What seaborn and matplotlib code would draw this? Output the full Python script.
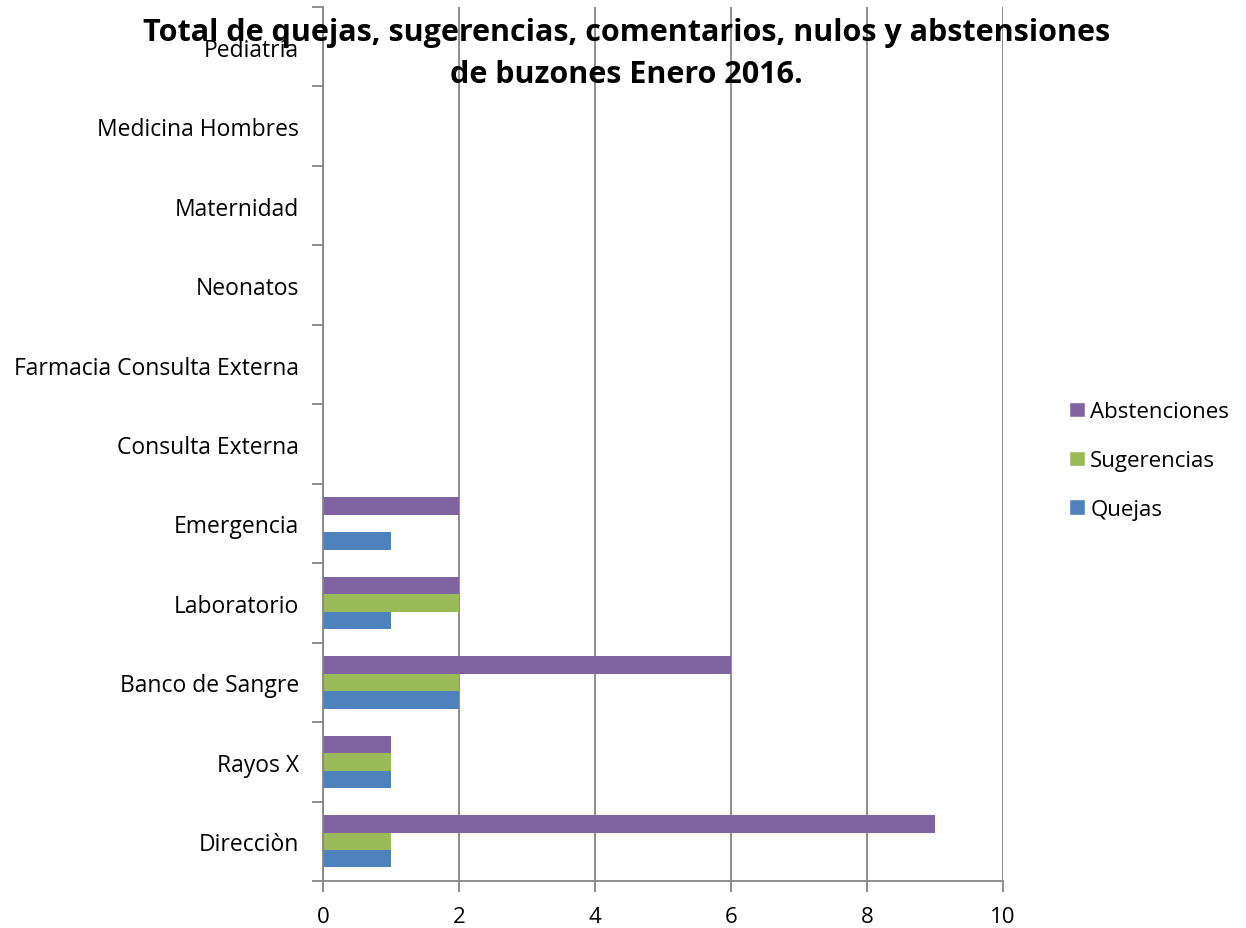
import matplotlib
matplotlib.use("Agg")
import matplotlib.pyplot as plt
import pandas as pd
import seaborn as sns
from matplotlib.ticker import FixedLocator
from matplotlib.patches import Patch

# categories listed top to bottom
areas = ["Pediatría", "Medicina Hombres", "Maternidad", "Neonatos",
         "Farmacia Consulta Externa", "Consulta Externa", "Emergencia",
         "Laboratorio", "Banco de Sangre", "Rayos X", "Direcciòn"]
abstenciones = [0, 0, 0, 0, 0, 0, 2, 2, 6, 1, 9]
sugerencias = [0, 0, 0, 0, 0, 0, 0, 2, 2, 1, 1]
quejas = [0, 0, 0, 0, 0, 0, 1, 1, 2, 1, 1]

series = ["Abstenciones", "Sugerencias", "Quejas"]
colors = ["#8064A2", "#9BBB59", "#4F81BD"]

df = pd.DataFrame({
    "area": areas * 3,
    "serie": ["Abstenciones"] * 11 + ["Sugerencias"] * 11 + ["Quejas"] * 11,
    "valor": abstenciones + sugerencias + quejas,
})

sns.set_style("white")
plt.rcParams["font.family"] = ["Open Sans", "DejaVu Sans"]
plt.rcParams["text.color"] = "black"
plt.rcParams["xtick.color"] = "black"
plt.rcParams["ytick.color"] = "black"

fig = plt.figure(figsize=(12.46, 9.29), dpi=100)
ax = fig.add_axes([0.2592, 0.0506, 0.5458, 0.9408])

sns.barplot(data=df, x="valor", y="area", hue="serie", order=areas,
            hue_order=series, palette=colors, width=0.66, orient="h",
            saturation=1, errorbar=None, legend=False, linewidth=0, ax=ax)

ax.set_xlim(0, 10)
ax.set_xticks([0, 2, 4, 6, 8, 10])
ax.xaxis.grid(True, color="#868686", linewidth=1.3)
ax.set_axisbelow(True)
ax.set_xlabel("")
ax.set_ylabel("")

for s in ["top", "right"]:
    ax.spines[s].set_visible(False)
for s in ["left", "bottom"]:
    ax.spines[s].set_color("#868686")
    ax.spines[s].set_linewidth(1.3)

ax.tick_params(axis="x", length=8, width=1.3, color="#868686",
               labelsize=16, pad=10, direction="out", bottom=True,
               labelcolor="black")
ax.tick_params(axis="y", which="major", length=0, labelsize=16.5, pad=17,
               labelcolor="black")
ax.yaxis.set_minor_locator(FixedLocator([i - 0.5 for i in range(12)]))
ax.tick_params(axis="y", which="minor", length=8, width=1.3,
               color="#868686", direction="out", left=True)

fig.text(0.503, 0.981,
         "Total de quejas, sugerencias, comentarios, nulos y abstensiones\nde buzones Enero 2016.",
         ha="center", va="top", fontsize=22, fontweight="bold",
         linespacing=1.55, color="black")

handles = [Patch(facecolor=c, label=s) for s, c in zip(series, colors)]
fig.legend(handles=handles, loc="center left", bbox_to_anchor=(0.842, 0.503),
           frameon=False, fontsize=16, handlelength=0.7, handleheight=0.7,
           handletextpad=0.25, labelspacing=1.25)

fig.savefig("out.png", dpi=100)
